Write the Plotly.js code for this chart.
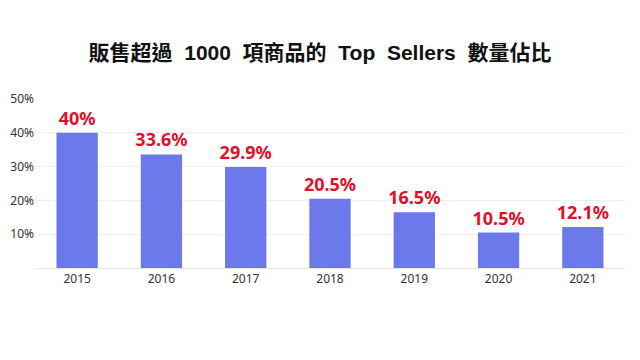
<!DOCTYPE html>
<html><head><meta charset="utf-8">
<script src="https://cdn.plot.ly/plotly-3.0.1.min.js"></script>
<style>html,body{margin:0;padding:0;background:#fff}#c{width:640px;height:360px}</style>
</head><body><div id="c"></div>
<script>
const years = ['2015','2016','2017','2018','2019','2020','2021'];
const shares = [40, 33.6, 29.9, 20.5, 16.5, 10.5, 12.1];
const labels = ['40%','33.6%','29.9%','20.5%','16.5%','10.5%','12.1%'];
const yTicks = [10, 20, 30, 40, 50];
const yTickText = ['10%','20%','30%','40%','50%'];

Plotly.newPlot('c', [{
  type: 'bar', x: years, y: shares,
  text: labels, textposition: 'outside', cliponaxis: false, constraintext: 'none',
  textfont: {family: 'Noto Sans, sans-serif', size: 18, color: '#e0102a', weight: 'bold'},
  marker: {color: '#6b79eb'},
  hoverinfo: 'none'
}], {
  width: 640, height: 360,
  margin: {l: 35, r: 15, t: 99, b: 92},
  paper_bgcolor: '#fff', plot_bgcolor: '#fff',
  bargap: 0.51,
  showlegend: false,
  title: {text: '販售超過\u00a0\u00a01000\u00a0\u00a0項商品的\u00a0\u00a0Top\u00a0\u00a0Sellers\u00a0\u00a0數量佔比', x: 0.5, xanchor: 'center', y: 0.855, yanchor: 'middle',
    font: {family: 'Liberation Sans, Noto Sans CJK TC, sans-serif', size: 21, color: '#111', weight: 'bold'}},
  xaxis: {type: 'category', showgrid: false, showline: true, linecolor: '#e6e6e6', linewidth: 1, ticks: '',
    tickfont: {family: 'Noto Sans, sans-serif', size: 12, color: '#333'}},
  yaxis: {range: [0, 50], tickvals: yTicks, ticktext: yTickText, showgrid: true, gridcolor: '#eeeeee', zeroline: false,
    ticks: '', tickfont: {family: 'Noto Sans, sans-serif', size: 12, color: '#333'}}
}, {displayModeBar: false, staticPlot: true});
</script></body></html>
